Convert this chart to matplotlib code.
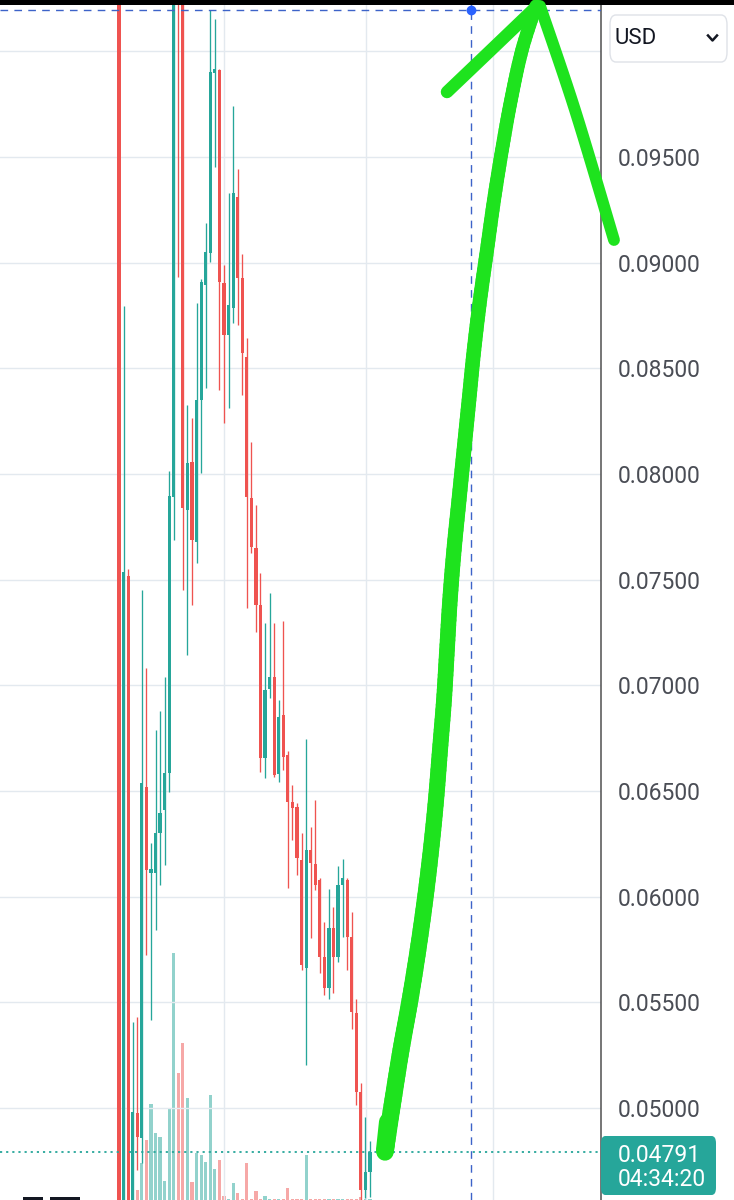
import numpy as np
import matplotlib
matplotlib.use("Agg")
import matplotlib.pyplot as plt
from matplotlib.patches import FancyBboxPatch, Rectangle
from matplotlib.lines import Line2D
from matplotlib.collections import LineCollection

W, H = 734, 1200
UP = "#26a69a"
DOWN = "#ef5350"
GRID = "#e3e9ef"
GREEN = "#1ee31e"

# candles, oldest first (USD)
opens = [0.11800, 0.04000, 0.07517, 0.04200, 0.04976, 0.04858, 0.06519, 0.06112,
         0.06112, 0.06301, 0.06410, 0.06585, 0.07891, 0.11600, 0.11000, 0.07830,
         0.08057, 0.07678, 0.08350, 0.08894, 0.09046, 0.09898, 0.09912, 0.08904,
         0.08658, 0.08786, 0.09311, 0.08928, 0.08554, 0.07886, 0.07650, 0.07380,
         0.06656, 0.06983, 0.07039, 0.06580, 0.06860, 0.06670, 0.06448, 0.06424,
         0.06174, 0.05662, 0.06221, 0.06155, 0.06079, 0.05715, 0.05568, 0.05852,
         0.05715, 0.06055, 0.06079, 0.05809, 0.05450, 0.05076, 0.04612, 0.04697]
highs = [0.12100, 0.08795, 0.07550, 0.05407, 0.05431, 0.07451, 0.07082, 0.06254,
         0.06789, 0.06879, 0.07039, 0.08014, 0.11500, 0.11800, 0.11300, 0.08327,
         0.08265, 0.08809, 0.08925, 0.09188, 0.10196, 0.10153, 0.09916, 0.08989,
         0.09330, 0.09741, 0.09443, 0.09041, 0.08644, 0.08151, 0.07853, 0.07532,
         0.07295, 0.07437, 0.07295, 0.06931, 0.07304, 0.06689, 0.06528, 0.06443,
         0.06301, 0.06746, 0.06330, 0.06457, 0.06088, 0.05880, 0.06036, 0.05951,
         0.06145, 0.06178, 0.06088, 0.05927, 0.05516, 0.05118, 0.04957, 0.04844]
lows = [0.03800, 0.03900, 0.04000, 0.04100, 0.04707, 0.04740, 0.05724, 0.05416,
        0.05842, 0.06055, 0.06150, 0.06495, 0.07688, 0.08932, 0.07451, 0.07144,
        0.07380, 0.07579, 0.08005, 0.08407, 0.09003, 0.09453, 0.08398, 0.08241,
        0.08312, 0.08715, 0.08705, 0.08374, 0.07366, 0.07626, 0.07252, 0.06590,
        0.06562, 0.06940, 0.06566, 0.06543, 0.06599, 0.06041, 0.06268, 0.06103,
        0.05653, 0.05203, 0.05804, 0.06032, 0.05639, 0.05535, 0.05516, 0.05544,
        0.05691, 0.05809, 0.05653, 0.05374, 0.05014, 0.04560, 0.04574, 0.04579]
closes = [0.04000, 0.07536, 0.04100, 0.04981, 0.04863, 0.06538, 0.06126, 0.06131,
          0.06301, 0.06396, 0.06585, 0.07896, 0.11200, 0.10450, 0.07839, 0.08052,
          0.07688, 0.08350, 0.08909, 0.09051, 0.09902, 0.09916, 0.08909, 0.08658,
          0.08800, 0.09330, 0.08928, 0.08573, 0.07891, 0.07655, 0.07380, 0.06656,
          0.06978, 0.07039, 0.06576, 0.06850, 0.06661, 0.06448, 0.06420, 0.06183,
          0.05677, 0.06221, 0.06159, 0.06055, 0.05715, 0.05568, 0.05852, 0.05715,
          0.06055, 0.06088, 0.05809, 0.05454, 0.05076, 0.04612, 0.04697, 0.04791]
volumes = [60, 60, 40, 30, 10, 37, 60, 96, 67, 63, 19, 92, 247, 127, 157, 102,
           18, 47, 45, 38, 105, 31, 40, 4, 1, 17, 7, 1, 37, 1, 9, 1,
           4, 1, 1, 1, 1, 12, 1, 1, 1, 45, 1, 1, 1, 1, 1, 1,
           1, 1, 1, 1, 1, 3, 1, 1]

price_ticks = [0.050, 0.055, 0.060, 0.065, 0.070, 0.075, 0.080, 0.085, 0.090, 0.095]
grid_levels = price_ticks + [0.100]
time_grid = [23.0, 54.1, 82.0]          # candle index of the time gridlines
last_price = "0.04791"
countdown = "04:34:20"
cursor_x, cursor_price = 77.1, 0.10196

# hand-drawn green arrow, screen pixels
arrow_shaft = [(385, 1152), (393, 1100), (401, 1050), (410, 1000), (418, 950),
               (425, 900), (431, 850), (436, 800), (440, 750), (444, 700),
               (447, 650), (450, 600), (454, 550), (459, 500), (464, 450),
               (469, 400), (474, 350), (480, 300), (487, 250), (494, 200),
               (502, 150), (511, 100), (522, 50), (536, 6)]
arrow_left = [(447, 92), (490, 51), (537, 6)]
arrow_right = [(540, 6), (575, 110), (614, 240)]


def fx(px):
    return px / W


def fy(py):
    return 1 - py / H


def smooth(pts, n=10):
    # catmull-rom through the stroke points so the pen line has no kinks
    p = np.array(pts, dtype=float)
    p = np.vstack([p[0], p, p[-1]])
    out = []
    for i in range(1, len(p) - 2):
        p0, p1, p2, p3 = p[i - 1], p[i], p[i + 1], p[i + 2]
        for t in np.linspace(0, 1, n, endpoint=False):
            out.append(0.5 * (2 * p1 + (p2 - p0) * t
                              + (2 * p0 - 5 * p1 + 4 * p2 - p3) * t ** 2
                              + (3 * p1 - p0 - 3 * p2 + p3) * t ** 3))
    out.append(p[-2])
    return np.array(out)


plt.rcParams["font.family"] = ["Roboto", "DejaVu Sans"]
fig = plt.figure(figsize=(W / 100, H / 100), dpi=100)
fig.patch.set_facecolor("white")

rect = [0, 0, 601 / W, 1]
xlim = (-26.08, 105.62)
ylim = (0.04565, 0.10243)
idx = list(range(len(opens)))
colors = [UP if c >= o else DOWN for o, c in zip(opens, closes)]

# volume pane underneath
vax = fig.add_axes(rect, zorder=0)
vax.set_xlim(*xlim)
vax.set_ylim(0, 1200)
vax.bar(idx, volumes, width=0.7, color=colors, alpha=0.5, linewidth=0)
vax.axis("off")

ax = fig.add_axes(rect, zorder=1)
ax.patch.set_visible(False)
ax.set_xlim(*xlim)
ax.set_ylim(*ylim)

for lv in grid_levels:
    ax.axhline(lv, color=GRID, lw=1.0, zorder=0)
for tx in time_grid:
    ax.axvline(tx, color=GRID, lw=1.0, zorder=0)

ax.vlines(idx, lows, highs, colors=colors, lw=0.95, zorder=2)
bottoms = [min(o, c) for o, c in zip(opens, closes)]
heights = [max(abs(c - o), 0.00004) for o, c in zip(opens, closes)]
ax.bar(idx, heights, bottom=bottoms, width=0.7, color=colors, linewidth=0, zorder=3)

ax.axhline(float(last_price), color=UP, lw=1.3, ls=(0, (1.2, 2.2)), zorder=4)
ax.axvline(cursor_x, color="#3d63c9", lw=1.0, ls=(0, (5.5, 4.5)), zorder=4)
ax.axhline(cursor_price, color="#3d63c9", lw=1.0, ls=(0, (5.5, 4.5)), zorder=4)
ax.plot([cursor_x], [cursor_price], "o", ms=6, color="#2962ff", zorder=5, clip_on=False)

ax.set_xticks([])
ax.yaxis.tick_right()
ax.set_yticks(price_ticks)
ax.set_yticklabels([f"{t:.5f}" for t in price_ticks])
ax.tick_params(axis="y", length=0, pad=12, labelsize=16.5, labelcolor="#4a4d55")
for side in ["top", "left", "bottom"]:
    ax.spines[side].set_visible(False)
ax.spines["right"].set_color("#4f4f4f")
ax.spines["right"].set_linewidth(1.1)

# top bar
fig.add_artist(Rectangle((0, fy(5)), 1, 5 / H, transform=fig.transFigure,
                         facecolor="black", edgecolor="none", zorder=10))

# currency selector
fig.add_artist(FancyBboxPatch((fx(610), fy(62)), 117 / W, 47 / H, transform=fig.transFigure,
                              boxstyle="round,pad=0,rounding_size=0.008",
                              facecolor="white", edgecolor="#dfe2e8", lw=1.0, zorder=10))
fig.text(fx(615), fy(39), "USD", fontsize=16, color="#131722", va="center", ha="left", zorder=11)
fig.add_artist(Line2D([fx(708), fx(712.5), fx(717)], [fy(35.5), fy(40.5), fy(35.5)],
                      transform=fig.transFigure, color="#131722", lw=1.8, zorder=11))

# last price tag
fig.add_artist(FancyBboxPatch((fx(601), fy(1195)), 115 / W, 59 / H, transform=fig.transFigure,
                              boxstyle="round,pad=0,rounding_size=0.006",
                              facecolor=UP, edgecolor="none", zorder=10))
fig.text(fx(618), fy(1155), last_price, fontsize=16.5, color="white", va="center", ha="left", zorder=11)
fig.text(fx(618), fy(1179), countdown, fontsize=16.5, color="white", va="center", ha="left", zorder=11)

# logo fragment peeking in at the bottom
fig.add_artist(Rectangle((fx(23), 0), 20 / W, 3 / H, transform=fig.transFigure,
                         facecolor="#131722", edgecolor="none", zorder=10))
fig.add_artist(Rectangle((fx(50), 0), 30 / W, 3 / H, transform=fig.transFigure,
                         facecolor="#131722", edgecolor="none", zorder=10))

# green arrow: shaft tapers from the bottom blob up to the tip
shaft = smooth(arrow_shaft)
pts = np.column_stack([fx(shaft[:, 0]), fy(shaft[:, 1])])
segs = np.stack([pts[:-1], pts[1:]], axis=1)
widths = np.linspace(12.5, 9.5, len(segs))
fig.add_artist(LineCollection(segs, linewidths=widths, colors=GREEN, capstyle="round",
                              joinstyle="round", transform=fig.transFigure, zorder=12))
for path, lw in [(smooth(arrow_left), 9.0), (smooth(arrow_right), 8.5)]:
    fig.add_artist(Line2D(fx(path[:, 0]), fy(path[:, 1]), transform=fig.transFigure,
                          color=GREEN, lw=lw, solid_capstyle="round",
                          solid_joinstyle="round", zorder=12))
fig.add_artist(Line2D([fx(385), fx(388)], [fy(1150), fy(1122)], transform=fig.transFigure,
                      color=GREEN, lw=13, solid_capstyle="round", zorder=12))

fig.savefig("out.png", dpi=100, facecolor="white")
